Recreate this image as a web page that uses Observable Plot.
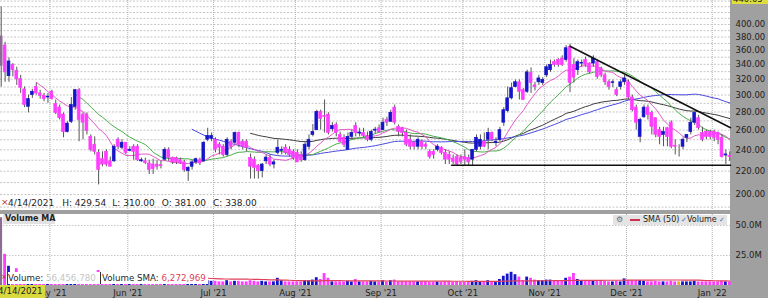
<!DOCTYPE html>
<html><head><meta charset="utf-8">
<script src="https://cdn.jsdelivr.net/npm/d3@7"></script>
<script src="https://cdn.jsdelivr.net/npm/@observablehq/plot@0.6"></script>
<style>
html,body{margin:0;padding:0;background:#fff;}
#wrap{position:relative;width:768px;height:298px;overflow:hidden;background:#a0a0a0;font-family:"DejaVu Sans",sans-serif;color:#1e1e1e;}
.abs{position:absolute;white-space:nowrap;}
svg{position:absolute;left:0;}
</style></head><body><div id="wrap"></div>
<script>
// ---- data (trading-day index 0 = 4/14/2021) ----
const firstDate = "4/14/2021";
const opens = [
381,367,324,339,331,320,307,286,300,310,
302,299,297,304,289,285,277,258,269,286,
306,277,277,253,245,237,231,238,229,229,
250,242,247,239,243,243,229,229,227,226,
225.9,225.5,230.5,240,232,232,230,228,220,224,
228,230,229,250,251,250,245,243,235,248,
247,257,248,248,232,230.5,225,220,229,232,
226,237,239,242,240,238,237,235,230,243,
255,260,280,275.5,277,261,265.6,255,252,240,
253,264.5,256.5,257,253,250,259.5,262,260,271,
269,285,263.5,262,257,250,247,243,248,245,
238,238,240,242,237,235,231.5,233,232,233,
232,230.5,240,243,248,250,257,247,250,268,
281,296,310,316,306,304,328,312,316,315,
325,332,343,346,348,346,365,339,332,341,
346,341,341,343,334,325,316,315,306,310,
316,316,297,285,253,274,285,279,273,260,
255,262,268,244,240,243,252,258,268,273,
257,258,258,258,257,252,234.5,234];
const highs = [
429.54,372,349,341,336,325,310,300,307,315,
306,302,302,306,294,288,279,269,297,307,
308,279,279,255,253,240,238,240,233,245,
252,250,247,243,245,245,232,232,230,231,
230,229,242,242,233,233,232,230,224,230,
232,232,248,262,257,252,247,245,252,250,
258,258,250,250,236,233,226,227,235,235,
230,250,243,245,243,240,240,238,247,255,
266,282,282,294,279,268,268,258,255,257,
260,268,262,262,258,260,263,265.6,273,274,
282,288,265.6,263,260,255,248,252,250,247,
240,240,245,243,240,238,235,235,235,240,
235,240,255,255,257,262,258,252,263,285,
310,315,319,319,308,332,335,316,325,322,
339,346,346,348,352,367,369,348,346,346,
350,342,352,346,336,328,319,319,309,319,
325,319,300,288,273,288,288,281,273,263,
263,263,270,250,245,252,255,273,280,276,
263,260,260,260,258,255,240,238];
const lows = [
310,316,316,323,312,302,285,279,296,300,
295,292,290,294,277,271,252,257,267,282,
248,250,255,238,235,208,224,224,224,228,
240,240,235,238,230,229,228,226,217,217,
221,222,229,229,226,226,226,219,211,221,
226,225,228,248,248,237,235,233,233,240,
245,242,240,238,213,213,213,214,226,224,
222,235,235,235,233,230,228,228,229,240,
253,260,260,257,255,258,253,247,242,240,
250,253,253,252,248,248,256,257,260,264,
269,265.6,253,253,243,240,240,240,240,240,
231,231,238,235,226,226,226,225,226,225,
225,225,238,240,242,240,248,243,248,264,
279,294,309,294,294,302,302,305,312,312,
322,329,336,336,337,343,303,315,325,336,
336,327,336,320,322,312,306,309,298,306,
312,294,280,260,247,273,271,255,252,245,
243,243,241,235,233,240,247,255,265,260,
248,250,250,248,245,232,226,229];
const closes = [
338,329,344,332,320,309,288,295,304,302,
299,295,298,295,279,273,258,267,288,306,
271,268,259,240,238,221,226,226,224,243,
243,247,237,240,238,230,230,227.5,221,222,
224,224.5,240,232,228,228,227,221,223,228,
231,227,247,254,254,240,242,235,250,243,
257,245,243,242,224,223,220,226,232.5,226,
228,242,240,237,235,232,228,230,245,250,
258,280,272,274.5,257,264.5,257,248,245,253,
257,257,257.5,254,250,258,260.5,257.5,268,268,
279,268,258,257,245,243,243,250,243,243,
233,235,243,237,230.5,230.5,228.5,226,228,230.5,
228,240,252,250,243,257,250,248,260,282,
296,308.5,316,304,294,329,315,310,321,319,
336,339,339,339,339,363,315,322,343,342,
339,329,348,323,325,316,310,316,300,316,
321,297,282,268,271,285,276.5,263.5,255,253,
258,253,243,243,240,250,255,268,279,262,
250,253,253,252,250,233,235.5,233];
// volume, millions of shares
const volumes = [
56.46,26,16,9,14,8,11,9,6,6,
5,5,5,5,6,6,8,6,8,9,
10,7,7,8,7,12.5,8,7,6,7,
5,5,5,4,4,5,4,4,5,5,
4,4,5,4,4,4,4,4,5,4,
4,4,6,4,3.5,3.5,3,3,4,3,
3.5,3.5,3,3,4,3.5,3,3.5,3,3,
3,6,4,3,3,3,3,3,4,4,
4.5,6.5,5,10,6,3,3,3,3,3.5,
3,5,3,3,3,3.5,3,3,4,3,
4,4.5,3,3,3,3,3,3,3,3,
2.5,2.5,3,2.5,3,3,2.5,3,2.5,2.5,
2.5,3.5,4,3,3,4,3,2.5,5,7.7,
9.5,11,9,7,4.2,7,6,4.5,4,4,
4.5,4.5,4,4,4,6,7,10,5,4,
3.5,3.5,3.5,4,3.5,3.5,3,3,3.5,3,
5.5,4,4,4,4,3.5,3,3,3.5,3,
3,3,3.5,3,3,3,3,3,3.5,3,
3,3,3,3,3,3.5,3,3];
// first trading day of each month (index) and its label
const monthIdx = [13,33,55,76,98,119,140,161,183];
const monthLabels = ["May '21","Jun '21","Jul '21","Aug '21","Sep '21","Oct '21","Nov '21","Dec '21","Jan '22"];
const priceTicks = [200,220,240,260,280,300,320,340,360,380,400];
const priceGrid = d3.range(190, 441, 10);
const volTicks = [25,50];
// drawn trend lines (index, price)
const trendDown = [{i:146, v:366},{i:187.2, v:262.6}];
const supportLine = [{i:115.6, v:225.3},{i:187.2, v:225.3}];
const legendText = {date:"4/14/2021", H:"429.54", L:"310.00", O:"381.00", C:"338.00", vol:"56,456,780", volSma:"6,272,969", last:"440.05"};

// ---- derived ----
const rows = opens.map((o,i)=>({i, o, c:closes[i], h:Math.max(highs[i],o,closes[i]), l:Math.min(lows[i],o,closes[i]), v:volumes[i]}));
const colorOf = d => d.i===0 ? "#8c6c94" : d.c>d.o ? "#1414c8" : d.c<d.o ? "#ff3cff" : "#e6b41e";
const sma = (arr,k) => arr.map((_,j)=> j<k-1 ? NaN : d3.mean(arr.slice(j-k+1,j+1)));
const ema = (arr,k) => { const a=2/(k+1), out=arr.map(()=>NaN); let e=d3.mean(arr.slice(0,k)); out[k-1]=e; for(let j=k;j<arr.length;j++){ e=a*arr[j]+(1-a)*e; out[j]=e; } return out; };
const ma10 = sma(closes,10), ma20 = sma(closes,20), ma50 = sma(closes,50), ema65 = ema(closes,65);
const volMa = sma(volumes,50);
const xDomain = [-0.18, 187.19];
const gridX = monthIdx.map(m=>m-0.5);
const labelByTick = new Map(gridX.map((g,k)=>[g, monthLabels[k]]));
const baseStyle = {background:"transparent", fontFamily:"DejaVu Sans, sans-serif", fontSize:"8.5px", color:"#1e1e1e", overflow:"hidden"};
const hw = 0.36;

const wrap = document.getElementById("wrap");
function box(html, css){ const d=document.createElement("div"); d.className="abs"; d.style.cssText=css; d.innerHTML=html; wrap.appendChild(d); return d; }

// white plot areas
box("", "left:0;top:0;width:730px;height:210px;background:#fff;");
box("", "left:0;top:214px;width:730px;height:71px;background:#fff;");

const price = Plot.plot({
  width:768, height:211, marginLeft:0, marginRight:38, marginTop:0, marginBottom:1,
  style: baseStyle,
  x:{domain:xDomain, axis:null},
  y:{type:"log", domain:[187.4,441], axis:null},
  color:{type:"identity"},
  marks:[
    Plot.ruleY(priceGrid, {stroke:"#c6c6c6", strokeDasharray:"2,1.5"}),
    Plot.ruleX(gridX, {stroke:"#b0b0b0", strokeDasharray:"1,1"}),
    Plot.line(rows, {x:"i", y:d=>ema65[d.i], stroke:"#3c3c3c", strokeWidth:1}),
    Plot.line(rows, {x:"i", y:d=>ma50[d.i], stroke:"#4a4ae0", strokeWidth:1}),
    Plot.line(rows, {x:"i", y:d=>ma20[d.i], stroke:"#4aae4a", strokeWidth:1}),
    Plot.line(rows, {x:"i", y:d=>ma10[d.i], stroke:"#e458c8", strokeWidth:1}),
    Plot.ruleX(rows, {x:"i", y1:"l", y2:"h", stroke:"#555"}),
    Plot.rect(rows, {x1:d=>d.i-hw, x2:d=>d.i+hw, y1:"o", y2:"c", fill:colorOf, stroke:colorOf, strokeWidth:0.7}),
    Plot.line(trendDown, {x:"i", y:"v", stroke:"#111", strokeWidth:1.5}),
    Plot.line(supportLine, {x:"i", y:"v", stroke:"#111", strokeWidth:1.5}),
    Plot.axisY(priceTicks, {anchor:"right", label:null, tickSize:0, tickPadding:5, tickFormat:d=>d.toFixed(2), fill:"#1e1e1e"})
  ]
});
price.style.top = "0px";
wrap.appendChild(price);

const vol = Plot.plot({
  width:768, height:84, marginLeft:0, marginRight:38, marginTop:0, marginBottom:13,
  style: baseStyle,
  x:{domain:xDomain, axis:null},
  y:{domain:[0,59.17], axis:null},
  color:{type:"identity"},
  marks:[
    Plot.ruleY(volTicks, {stroke:"#c6c6c6", strokeDasharray:"1.5,1.5"}),
    Plot.ruleX(gridX, {stroke:"#b0b0b0", strokeDasharray:"1,1"}),
    Plot.rect(rows, {x1:d=>d.i-hw, x2:d=>d.i+hw, y1:0, y2:"v", fill:colorOf}),
    Plot.line(rows, {x:"i", y:d=>volMa[d.i], stroke:"#e0405a", strokeWidth:1.2}),
    Plot.axisY(volTicks, {anchor:"right", label:null, tickSize:0, tickPadding:5, tickFormat:d=>d.toFixed(1)+"M", fill:"#1e1e1e"}),
    Plot.axisX(gridX, {anchor:"bottom", label:null, tickSize:0, tickPadding:4, tickFormat:d=>labelByTick.get(d), fill:"#1e1e1e"})
  ]
});
vol.style.top = "214px";
wrap.appendChild(vol);

// ---- overlays (real text) ----
box("×", "left:1px;top:197px;font-size:9px;line-height:11px;color:#b03040;");
box(`<span>${legendText.date}</span><span style="margin-left:8px">H: ${legendText.H}</span><span style="margin-left:6px">L: ${legendText.L}</span><span style="margin-left:7px">O: ${legendText.O}</span><span style="margin-left:7px">C: ${legendText.C}</span>`,
    "left:8px;top:198px;font-size:9px;line-height:11px;color:#1e1e1e;");
box("Volume MA", "left:3px;top:214px;width:50px;height:10px;background:#e2e2e2;font-size:8px;line-height:10px;font-weight:bold;padding-left:2px;color:#222;");
box(`<span style="color:#1e1e1e">Volume: </span><span style="color:#c4c4c4">${legendText.vol}</span>`,
    "left:8px;top:272px;width:92px;height:12px;background:#fff;font-size:8.7px;line-height:12px;");
box("×", "left:1px;top:273px;font-size:7px;line-height:9px;color:#b03040;");
box(`<span style="color:#1e1e1e">Volume SMA: </span><span style="color:#e0405a">${legendText.volSma}</span>`,
    "left:100px;top:272px;width:106px;height:12px;background:#fff;border-left:1px solid #333;font-size:8.7px;line-height:12px;padding-left:1px;");
// legend top-right of volume panel
const lg = box("", "left:613px;top:215px;width:114px;height:10px;background:#e4e4e4;font-size:8px;line-height:10px;color:#222;");
lg.innerHTML = `<span class="abs" style="left:3px;top:0;color:#667;">⚙</span>
<span class="abs" style="left:17px;top:4px;width:10px;height:2px;background:#d03050;"></span>
<span class="abs" style="left:30px;top:0;">SMA (50)</span>
<span class="abs" style="left:68px;top:0;color:#4a6fb0;font-size:7px;">✓</span>
<span class="abs" style="left:74px;top:0;">Volume</span>
<span class="abs" style="left:106px;top:0;color:#4a6fb0;font-size:7px;">✓</span>`;
// yellow cursor labels
box(legendText.date, "left:0;top:285px;width:45px;height:13px;background:#d9d93e;font-size:8.7px;line-height:13px;color:#1e1e1e;text-indent:-2px;");
box(legendText.last, "left:732px;top:-5px;width:36px;height:9px;background:#dede3c;font-size:8.5px;line-height:9px;color:#1e1e1e;padding-left:1px;");
</script></body></html>
